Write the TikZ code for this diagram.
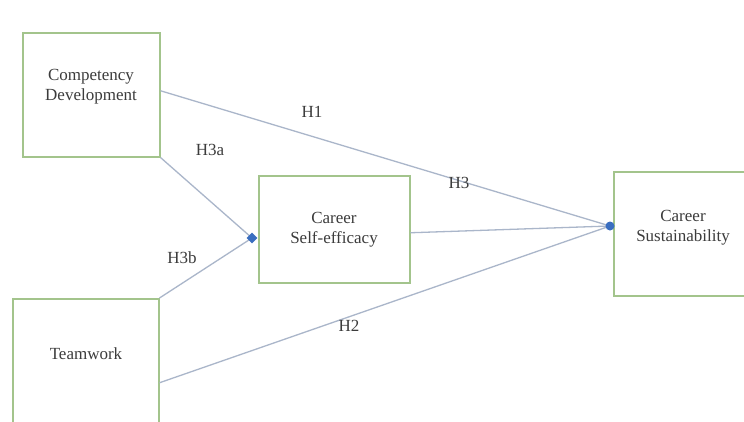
\documentclass[tikz,border=0pt]{standalone}
\usepackage{fontspec}
\setmainfont{Liberation Serif}
\usetikzlibrary{shapes.geometric}
\definecolor{boxgreen}{HTML}{A3C48C}
\definecolor{linegrey}{HTML}{AAB6CA}
\definecolor{dotblue}{HTML}{3A6EC0}
\definecolor{txt}{HTML}{3C3C3C}
\begin{document}
\begin{tikzpicture}[x=1pt,y=-1pt,
  box/.style={draw=boxgreen,line width=1.5pt,fill=white,anchor=north west,inner sep=0pt},
  lbl/.style={text=txt,font=\fontsize{17}{20}\selectfont,align=center,inner sep=0pt},
  conn/.style={draw=linegrey,line width=1.3pt},
  dotmark/.style={circle,fill=dotblue,minimum size=9pt,inner sep=0pt},
  diamark/.style={diamond,fill=dotblue,minimum size=11pt,inner sep=0pt}]
\useasboundingbox (0,0) rectangle (744,421);
\clip (0,0) rectangle (744,421);
\fill[white] (0,0) rectangle (744,421);
% boxes
\node[box,minimum width=137pt,minimum height=124pt] (cd) at (22,32) {};
\node[box,minimum width=146pt,minimum height=130pt] (tw) at (12,298) {};
\node[box,minimum width=151pt,minimum height=107pt] (se) at (258,175) {};
\node[box,minimum width=131pt,minimum height=124pt] (cs) at (613,171) {};
% box texts
\node[lbl] (cdt) at (91,87) {Competency\\Development};
\node[lbl] (twt) at (86,354) {Teamwork};
\node[lbl] (set) at (334,230) {Career\\Self-efficacy};
\node[lbl] (cst) at (683,228) {Career\\Sustainability};
% end markers
\coordinate (d1) at (252,238);
\coordinate (d2) at (610,226);
% connectors
\draw[conn] ([yshift=4pt]cd.east) -- (d2);
\draw[conn] (cd.south east) -- (d1);
\draw[conn] (tw.north east) -- (d1);
\draw[conn] ([yshift=-19pt]tw.east) -- (d2);
\draw[conn] ([yshift=-3.5pt]se.east) -- (d2);
\node[diamark] (dm1) at (d1) {};
\node[dotmark] (dm2) at (d2) {};
% hypothesis labels
\node[lbl] (h1) at (312,112) {H1};
\node[lbl] (h3a) at (210,150) {H3a};
\node[lbl] (h3b) at (182,258) {H3b};
\node[lbl] (h3) at (459,183) {H3};
\node[lbl] (h2) at (349,326) {H2};
\end{tikzpicture}
\end{document}
